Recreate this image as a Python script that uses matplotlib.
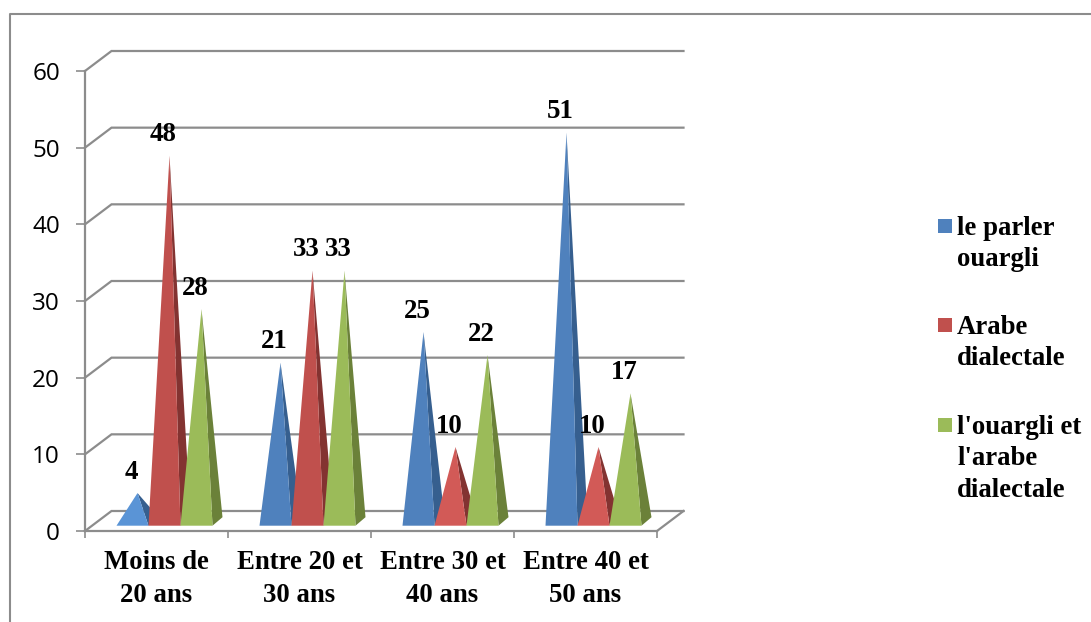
import matplotlib
matplotlib.use("Agg")
import matplotlib.pyplot as plt
from matplotlib.lines import Line2D
from matplotlib.patches import Polygon, Rectangle

categories = ["Moins de\n20 ans", "Entre 20 et\n30 ans", "Entre 30 et\n40 ans", "Entre 40 et\n50 ans"]
series_names = ["le parler\nouargli", "Arabe\ndialectale", "l'ouargli et\nl'arabe\ndialectale"]
parler = [4, 21, 25, 51]
arabe = [48, 33, 10, 10]
les_deux = [28, 33, 22, 17]
yticks = [0, 10, 20, 30, 40, 50, 60]

front = ["#4F81BD", "#C0504D", "#9BBB59"]
small_front = ["#5A94D6", "#D25A57", "#A5C65E"]
side = ["#365F8F", "#833331", "#6B8139"]
GREY = "#8C8C8C"

W, H = 1091, 622
fig = plt.figure(figsize=(W / 100, H / 100), dpi=100)
ax = fig.add_axes([85 / W, 1 - 531 / H, 572 / W, 460 / H])
ax.set_xlim(0, 4)
ax.set_ylim(0, 60)

# px to data units
px_x = 4 / 572
px_y = 60 / 460
wall_dx, wall_dy = 26.5 * px_x, 20 * px_y
depth_dx, depth_dy = 10 * px_x, 8.5 * px_y
bar_w = 32 * px_x
bar_start = 31.5 * px_x
floor_y = 5.3 * px_y
apex_lift = 2 * px_y

# walls and floor
for v in yticks:
    ax.plot([0, wall_dx, 4 + wall_dx], [v, v + wall_dy, v + wall_dy], color=GREY, lw=1.6,
            clip_on=False, zorder=1, solid_joinstyle="miter")
ax.plot([4, 4 + wall_dx], [0, wall_dy], color=GREY, lw=1.6, clip_on=False, zorder=1)

for s, values in enumerate([parler, arabe, les_deux]):
    for i, v in enumerate(values):
        x0 = i + bar_start + s * bar_w
        x1 = x0 + bar_w
        apex = (x0 + bar_w / 2 + depth_dx / 2, floor_y + apex_lift + v)
        colour = small_front[s] if v <= 10 else front[s]
        ax.add_patch(Polygon([(x1, floor_y), (x1 + depth_dx, floor_y + depth_dy), apex],
                             facecolor=side[s], edgecolor="none", clip_on=False, zorder=3 + s))
        ax.add_patch(Polygon([(x0, floor_y), (x1, floor_y), apex],
                             facecolor=colour, edgecolor="none", clip_on=False, zorder=3 + s))
        ax.text(x0 + bar_w / 2 - 1 * px_x, apex[1] + 21 * px_y, str(v), ha="center", va="center",
                family="Liberation Serif", weight="bold", fontsize=19.4, zorder=10, clip_on=False)

for name in ["top", "right"]:
    ax.spines[name].set_visible(False)
for name in ["left", "bottom"]:
    ax.spines[name].set_color(GREY)
    ax.spines[name].set_linewidth(1.6)
ax.spines["bottom"].set_zorder(2)
ax.patch.set_alpha(0)

ax.set_yticks(yticks)
ax.tick_params(axis="y", length=6.5, width=1.2, color=GREY, labelsize=17.5, pad=11.5)
for t in ax.get_yticklabels():
    t.set_family("Open Sans")
ax.set_xticks(range(5))
ax.set_xticklabels([])
ax.tick_params(axis="x", which="major", length=5, width=1.2, color=GREY)
ax.set_xticks([i + 0.5 for i in range(4)], minor=True)
ax.set_xticklabels(categories, minor=True, family="Liberation Serif", weight="bold",
                   fontsize=19.3, linespacing=1.38)
ax.tick_params(axis="x", which="minor", length=0, pad=14)

# legend on the right
legend_tops = [226, 325, 425]
for name, colour, y in zip(series_names, front, legend_tops):
    fig.add_artist(Rectangle((938 / W, 1 - (y + 7) / H), 14 / W, 14 / H, transform=fig.transFigure,
                             facecolor=colour, edgecolor="none"))
    fig.text(957 / W, 1 - (y - 10) / H, name, ha="left", va="top", family="Liberation Serif",
             weight="bold", fontsize=19.3, linespacing=1.33)

# chart area border
fig.add_artist(Line2D([9.5 / W, 9.5 / W, 1], [0, 1 - 14 / H, 1 - 14 / H], transform=fig.transFigure,
                      color=GREY, lw=1.5))

fig.savefig("out.png", dpi=100)
